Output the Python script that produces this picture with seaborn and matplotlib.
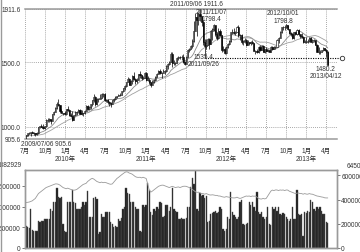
import numpy as np
import pandas as pd
import matplotlib
matplotlib.use("Agg")
import matplotlib.pyplot as plt
from matplotlib.lines import Line2D
import seaborn as sns

# ---------------- data (weekly, from 2009-07-06) ----------------
WEEK_START = "2009-07-06"
# closes of the 26 weeks before the chart (warm-up for moving averages)
pre_close = [855, 840, 895, 915, 915, 945, 1000, 940, 940, 930, 955, 925, 895,
             870, 870, 912, 885, 915, 930, 955, 980, 960, 935, 935, 940, 930]

close_2009 = [937, 950, 953, 958, 955, 950, 942, 955, 996, 1005, 1002, 990, 1003,
              1050, 1050, 1057, 1045, 1096, 1118, 1145, 1175, 1165, 1120, 1108, 1105, 1097]
high_2009 = [940, 955, 960, 960, 970, 960, 955, 960, 1000, 1010, 1025, 1020, 1005,
             1060, 1070, 1070, 1060, 1100, 1120, 1150, 1195, 1212, 1170, 1140, 1110, 1120]
low_2009 = [905.6, 925, 945, 930, 950, 937, 932, 940, 948, 990, 995, 985, 985,
            1000, 1040, 1040, 1025, 1045, 1090, 1115, 1140, 1160, 1110, 1105, 1090, 1090]

close_2010 = [1138, 1130, 1090, 1080, 1050, 1090, 1115, 1118, 1133, 1100, 1105, 1105, 1125,
              1160, 1135, 1155, 1178, 1205, 1228, 1178, 1212, 1218, 1225, 1256, 1255, 1208,
              1210, 1190, 1188, 1180, 1205, 1215, 1228, 1236, 1245, 1246, 1275, 1297, 1318,
              1345, 1370, 1325, 1358, 1395, 1368, 1352, 1365, 1405, 1398, 1375, 1380, 1420]
high_2010 = [1140, 1160, 1140, 1105, 1120, 1095, 1125, 1125, 1140, 1138, 1130, 1110, 1130,
             1165, 1170, 1160, 1180, 1210, 1250, 1235, 1220, 1225, 1250, 1260, 1265, 1262,
             1215, 1215, 1200, 1195, 1210, 1220, 1235, 1240, 1255, 1260, 1280, 1300, 1320,
             1350, 1388, 1375, 1360, 1400, 1425, 1375, 1380, 1410, 1432, 1400, 1395, 1425]
low_2010 = [1095, 1120, 1085, 1075, 1045, 1050, 1085, 1090, 1115, 1100, 1095, 1085, 1100,
            1120, 1130, 1130, 1140, 1160, 1195, 1160, 1170, 1195, 1215, 1220, 1230, 1200,
            1190, 1180, 1160, 1155, 1175, 1190, 1210, 1220, 1235, 1240, 1245, 1270, 1285,
            1310, 1345, 1325, 1320, 1330, 1360, 1330, 1340, 1360, 1380, 1360, 1370, 1380]

close_2011 = [1365, 1360, 1345, 1320, 1348, 1360, 1388, 1410, 1430, 1420, 1418, 1428, 1430,
              1472, 1487, 1505, 1560, 1490, 1493, 1492, 1536, 1540, 1542, 1540, 1500, 1485,
              1542, 1594, 1602, 1628, 1663, 1745, 1852, 1828, 1876, 1856, 1814, 1658, 1625,
              1636, 1682, 1640, 1745, 1755, 1788, 1722, 1685, 1745, 1710, 1598, 1605, 1570]
high_2011 = [1425, 1390, 1375, 1350, 1365, 1370, 1390, 1415, 1440, 1445, 1425, 1445, 1440,
             1475, 1490, 1510, 1575, 1577, 1520, 1500, 1540, 1545, 1550, 1552, 1560, 1510,
             1545, 1600, 1610, 1630, 1680, 1815, 1880, 1890, 1885, 1911.6, 1860, 1830, 1680,
             1680, 1690, 1690, 1750, 1765, 1798.4, 1790, 1730, 1765, 1760, 1710, 1625, 1615]
low_2011 = [1355, 1355, 1330, 1310, 1320, 1340, 1355, 1385, 1405, 1405, 1380, 1415, 1405,
            1425, 1450, 1480, 1500, 1460, 1480, 1480, 1490, 1520, 1525, 1515, 1495, 1480,
            1485, 1540, 1575, 1600, 1610, 1660, 1745, 1705, 1790, 1820, 1780, 1630, 1535,
            1600, 1630, 1600, 1640, 1670, 1740, 1705, 1670, 1680, 1700, 1580, 1590, 1560]

close_2012 = [1620, 1640, 1665, 1730, 1730, 1725, 1735, 1775, 1712, 1710, 1658, 1662, 1668,
              1635, 1660, 1645, 1660, 1645, 1590, 1590, 1575, 1620, 1595, 1626, 1580, 1600,
              1585, 1592, 1582, 1620, 1605, 1618, 1615, 1670, 1690, 1735, 1770, 1775, 1772,
              1785, 1755, 1725, 1715, 1690, 1730, 1715, 1750, 1715, 1705, 1695, 1660, 1660, 1660]
high_2012 = [1625, 1650, 1675, 1735, 1760, 1765, 1740, 1780, 1790, 1715, 1715, 1670, 1690,
             1680, 1675, 1660, 1665, 1670, 1645, 1595, 1600, 1625, 1635, 1630, 1630, 1605,
             1620, 1600, 1595, 1625, 1625, 1625, 1625, 1680, 1695, 1740, 1775, 1780, 1785,
             1798.8, 1790, 1760, 1730, 1725, 1735, 1735, 1755, 1755, 1720, 1725, 1700, 1670, 1695]
low_2012 = [1560, 1610, 1635, 1660, 1720, 1720, 1710, 1730, 1695, 1670, 1640, 1630, 1650,
            1625, 1635, 1635, 1630, 1640, 1585, 1560, 1570, 1570, 1590, 1595, 1575, 1570,
            1580, 1575, 1575, 1575, 1595, 1600, 1600, 1615, 1650, 1690, 1725, 1750, 1750,
            1765, 1750, 1720, 1700, 1680, 1680, 1710, 1710, 1705, 1690, 1690, 1650, 1650, 1645]

close_2013 = [1665, 1690, 1660, 1670, 1668, 1635, 1580, 1578, 1580, 1592, 1608, 1598, 1580, 1480.2]
high_2013 = [1680, 1695, 1695, 1680, 1680, 1675, 1640, 1620, 1595, 1595, 1615, 1610, 1605, 1590]
low_2013 = [1645, 1655, 1655, 1650, 1660, 1630, 1575, 1565, 1565, 1575, 1590, 1590, 1540, 1480.2]

# weekly volume (thousand contracts)
vol_2009 = [520, 500, 480, 930, 430, 400, 400, 420, 640, 620, 660, 640, 690,
            690, 700, 690, 930, 900, 1120, 1100, 1450, 1240, 1200, 1240, 570, 400]
vol_2010 = [380, 1120, 1100, 1120, 1400, 1100, 1090, 930, 950, 930, 980, 1100, 1050,
            1100, 1380, 740, 760, 740, 1210, 1240, 1190, 330, 380, 810, 760, 740,
            880, 880, 860, 620, 570, 500, 520, 500, 690, 640, 720, 930, 1000,
            1450, 1330, 1300, 1120, 1100, 1120, 1000, 930, 930, 400, 380, 1050, 1000]
vol_2011 = [1050, 1570, 1400, 860, 800, 930, 900, 980, 930, 1120, 1080, 760, 780,
            1050, 1050, 900, 1000, 1450, 930, 900, 880, 690, 690, 720, 690, 700,
            720, 1000, 1000, 1480, 1690, 1550, 1880, 930, 900, 1330, 1250, 1290, 1200,
            1250, 620, 650, 810, 850, 880, 900, 850, 880, 1000, 950, 450, 420]
vol_2012 = [450, 760, 700, 1360, 860, 800, 740, 700, 740, 1100, 1170, 570, 550,
            570, 600, 1100, 1050, 1100, 1000, 900, 1360, 860, 820, 860, 740, 700,
            740, 1000, 570, 550, 980, 950, 980, 900, 980, 810, 800, 850, 810,
            760, 690, 650, 690, 1000, 700, 690, 1400, 810, 800, 810, 290, 880, 850]
vol_2013 = [900, 880, 1170, 1100, 930, 900, 980, 950, 980, 900, 810, 830, 620, 600]

# weekly open interest (thousand contracts)
oi_2009 = [375, 378, 380, 385, 390, 400, 410, 430, 450, 460, 470, 480, 490,
           500, 505, 510, 515, 520, 525, 530, 530, 527, 520, 510, 500, 495]
oi_2010 = [490, 495, 490, 485, 480, 478, 480, 485, 495, 505, 515, 525, 530,
           535, 550, 560, 570, 576, 570, 560, 550, 545, 540, 545, 540, 543,
           540, 535, 530, 527, 530, 545, 560, 575, 584, 595, 605, 615, 624,
           630, 628, 620, 616, 610, 600, 590, 585, 584, 585, 580, 585, 580]
oi_2011 = [575, 530, 480, 462, 470, 480, 490, 500, 510, 515, 519, 520, 515,
           510, 505, 500, 505, 510, 505, 500, 503, 505, 500, 505, 510, 511,
           510, 505, 500, 495, 485, 475, 465, 460, 462, 455, 450, 450, 445,
           450, 445, 440, 438, 440, 438, 435, 435, 430, 430, 425, 422, 420]
oi_2012 = [425, 422, 420, 418, 415, 414, 415, 420, 414, 410, 414, 420, 425,
           430, 428, 430, 425, 430, 428, 430, 420, 410, 406, 405, 410, 406,
           410, 430, 450, 470, 479, 475, 480, 480, 475, 480, 478, 480, 475,
           480, 479, 470, 465, 460, 455, 450, 454, 455, 450, 450, 445, 450, 446]
oi_2013 = [445, 450, 446, 445, 440, 435, 430, 428, 425, 422, 420, 415, 414, 414]

month_labels = {1: "1月", 4: "4月", 7: "7月", 10: "10月"}
VOL_MAX = 1882929
OI_MAX = 645057
Y_MIN, Y_MAX = 905.6, 1911.6
SUPPORT_LOW = 1535.0

# ---------------- assemble ----------------
close = close_2009 + close_2010 + close_2011 + close_2012 + close_2013
high = high_2009 + high_2010 + high_2011 + high_2012 + high_2013
low = low_2009 + low_2010 + low_2011 + low_2012 + low_2013
vol = vol_2009 + vol_2010 + vol_2011 + vol_2012 + vol_2013
oi = oi_2009 + oi_2010 + oi_2011 + oi_2012 + oi_2013
n = len(close)
dates = pd.date_range(WEEK_START, periods=n, freq="7D")
df = pd.DataFrame({"date": dates, "open": [pre_close[-1]] + close[:-1],
                   "high": high, "low": low, "close": close,
                   "volume": np.array(vol) * 1000.0, "oi": np.array(oi) * 1000.0})
allc = pd.Series(pre_close + close, dtype=float)
df["ma13"] = allc.rolling(13).mean().iloc[len(pre_close):].values
df["ma26"] = allc.rolling(26).mean().iloc[len(pre_close):].values

# ---------------- style ----------------
sns.set_style("white")
plt.rcParams["font.family"] = ["Liberation Sans", "Noto Sans CJK JP"]
plt.rcParams["font.size"] = 4.7
TXT = "#333333"
GRID = "#8c8c8c"
SP = "#9a9a9a"

W, H = 360, 253
fig = plt.figure(figsize=(W / 100, H / 100), dpi=100)
fig.patch.set_facecolor("white")


def rect(l, t, r, b):
    return [l / W, 1 - b / H, (r - l) / W, (b - t) / H]


ax = fig.add_axes(rect(25, 10, 337, 140))
axv = fig.add_axes(rect(25, 171, 337, 249))
X0, X1 = pd.Timestamp("2009-07-01"), pd.Timestamp("2013-05-20")

# ---------------- price panel ----------------
up = df["close"] >= df["open"]
bot = np.minimum(df["open"], df["close"])
hgt = (df["close"] - df["open"]).abs()
ax.vlines(df["date"], df["low"], df["high"], color="black", lw=0.5, zorder=3)
ax.bar(df["date"][up], hgt[up], bottom=bot[up], width=5, color="white",
       edgecolor="black", lw=0.4, zorder=4)
ax.bar(df["date"][~up], hgt[~up], bottom=bot[~up], width=5, color="black",
       edgecolor="black", lw=0.4, zorder=4)
sns.lineplot(data=df, x="date", y="ma13", ax=ax, color="#8a8a8a", lw=0.6, zorder=2)
sns.lineplot(data=df, x="date", y="ma26", ax=ax, color="#a0a0a0", lw=0.6, zorder=2)

ax.set_xlim(X0, X1)
ax.set_ylim(Y_MIN, Y_MAX)
qs = pd.date_range("2009-07-01", "2013-04-01", freq="QS")
ax.set_xticks(qs)
ax.set_xticklabels([month_labels[d.month] + (f"\n{d.year}年" if d.month == 1 else "") for d in qs],
                   color=TXT, linespacing=1.1)
ax.set_yticks([Y_MIN, 1000, 1500, Y_MAX])
ax.set_yticklabels([f"{v:.1f}" for v in [Y_MIN, 1000, 1500, Y_MAX]], color=TXT)
ax.tick_params(axis="x", length=0, pad=6.0)
ax.tick_params(axis="y", length=2.5, width=0.6, color="#666", pad=0.5)
ax.grid(True, ls=(0, (1, 1.5)), color=GRID, lw=0.6)
ax.set_xlabel("")
ax.set_ylabel("")
for s in ["left", "right"]:
    ax.spines[s].set_visible(False)
for s in ["top", "bottom"]:
    ax.spines[s].set_color(SP)
    ax.spines[s].set_linewidth(1.1)

# support line from the 2011/09/26 low
low_date = pd.Timestamp("2011-09-26")
ax.plot([low_date, X1 + pd.Timedelta(days=22)], [SUPPORT_LOW, SUPPORT_LOW],
        ls=(0, (1, 1.2)), color="black", lw=0.8, clip_on=False, zorder=5)
ax.plot([X1 + pd.Timedelta(days=22)], [SUPPORT_LOW], marker="o", ms=3.2, mfc="white",
        mec="#333", mew=0.6, clip_on=False, zorder=6)

P = 0.72  # points per pixel
ann = dict(textcoords="offset points", color=TXT, ha="center", va="center",
           linespacing=1.1, zorder=7, annotation_clip=False)
ax.annotate("2011/09/06 1911.6", xy=(pd.Timestamp("2011-09-06"), 1911.6),
            xytext=(-4 * P, 5.5 * P), **ann)
ax.annotate("2011/11/07\n1798.4", xy=(pd.Timestamp("2011-11-07"), 1798.4),
            xytext=(-2 * P, 8.5 * P), **ann)
ax.annotate("2012/10/01\n1798.8", xy=(pd.Timestamp("2012-10-01"), 1798.8),
            xytext=(-3 * P, 7 * P), **ann)
ax.annotate("1535.4\n2011/09/26", xy=(low_date, SUPPORT_LOW),
            xytext=(-1.5 * P, -2.5 * P), **ann)
ax.annotate("1480.2\n2013/04/12", xy=(pd.Timestamp("2013-04-12"), 1480.2),
            xytext=(-3 * P, -7.5 * P), **ann)
ann_l = dict(ann)
ann_l["ha"] = "left"
ax.annotate("2009/07/06 905.6", xy=(pd.Timestamp("2009-07-06"), 905.6),
            xytext=(-5 * P, -4 * P), **ann_l)

# ---------------- volume panel ----------------
axv.bar(df["date"], df["volume"], width=6, color="#1a1a1a", edgecolor="#555555", lw=0.3)
axv.set_xlim(X0, X1)
axv.set_ylim(0, VOL_MAX)
axv.set_yticks([0, 500000, 1000000, 1500000])
axv.set_yticklabels(["0", "500000", "1000000", "1500000"], color=TXT)
axv.tick_params(axis="y", length=2.5, width=0.6, color="#666", pad=0.5)
axv.set_xticks([])
axv.set_xlabel("")
axv.set_ylabel("")
for s in axv.spines.values():
    s.set_color(SP)
    s.set_linewidth(1.0)

axo = axv.twinx()
sns.lineplot(data=df, x="date", y="oi", ax=axo, color="#9a9a9a", lw=0.6)
axo.set_xlim(X0, X1)
axo.set_ylim(0, OI_MAX)
axo.set_yticks([0, 200000, 400000, 600000])
axo.set_yticklabels(["0", "200000", "400000", "600000"], color=TXT)
axo.tick_params(axis="y", length=2.5, width=0.6, color="#666", pad=0.5)
axo.set_xlabel("")
axo.set_ylabel("")
for s in axo.spines.values():
    s.set_color(SP)
    s.set_linewidth(1.0)

axv.annotate(f"{VOL_MAX}", xy=(0, 1), xycoords="axes fraction", xytext=(-3 * P, 5 * P),
             textcoords="offset points", ha="right", va="center", color=TXT, annotation_clip=False)
axo.annotate(f"{OI_MAX}", xy=(1, 1), xycoords="axes fraction", xytext=(10 * P, 4.5 * P),
             textcoords="offset points", ha="left", va="center", color=TXT, annotation_clip=False)

fig.add_artist(Line2D([0.6 / W, 0.6 / W], [0, 1], transform=fig.transFigure, color=SP, lw=1.0))

fig.savefig("out.png", dpi=100, facecolor="white")
